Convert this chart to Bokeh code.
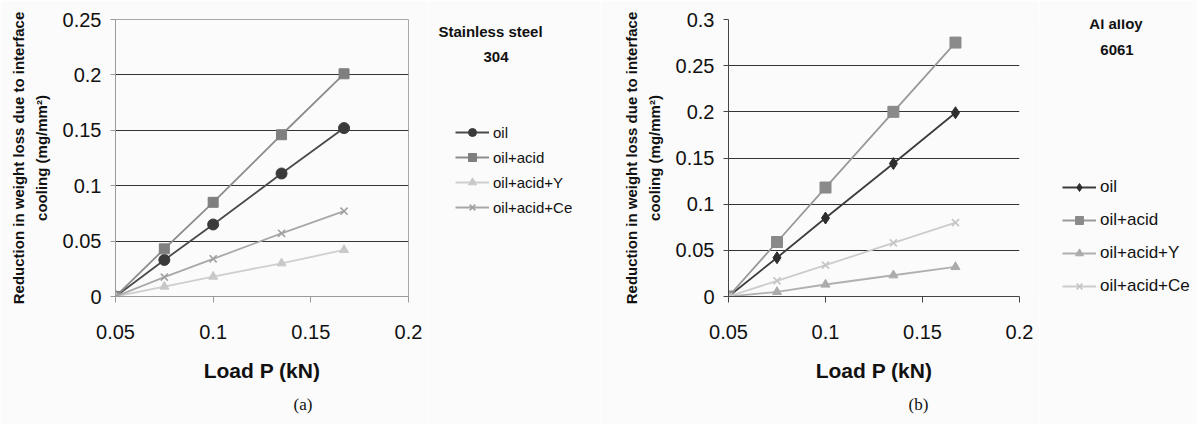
from bokeh.plotting import figure
from bokeh.layouts import row
from bokeh.models import FixedTicker, Legend, LegendItem, Label, Title
from bokeh.embed import file_html
from bokeh.resources import INLINE

# ---------------- data ----------------
load = [0.05, 0.075, 0.1, 0.135, 0.167]
series_names = ["oil", "oil+acid", "oil+acid+Y", "oil+acid+Ce"]

a_oil = [0.0, 0.033, 0.065, 0.111, 0.152]
a_acid = [0.0, 0.043, 0.085, 0.146, 0.201]
a_y = [0.0, 0.009, 0.018, 0.030, 0.042]
a_ce = [0.0, 0.0175, 0.034, 0.057, 0.077]

b_oil = [0.0, 0.042, 0.085, 0.144, 0.199]
b_acid = [0.0, 0.059, 0.118, 0.200, 0.275]
b_y = [0.0, 0.005, 0.013, 0.023, 0.032]
b_ce = [0.0, 0.017, 0.034, 0.058, 0.080]

x_ticks = [0.05, 0.1, 0.15, 0.2]
x_tick_labels = ["0.05", "0.1", "0.15", "0.2"]
a_y_ticks = [0.0, 0.05, 0.1, 0.15, 0.2, 0.25]
a_y_tick_labels = ["0", "0.05", "0.1", "0.15", "0.2", "0.25"]
b_y_ticks = [0.0, 0.05, 0.1, 0.15, 0.2, 0.25, 0.3]
b_y_tick_labels = ["0", "0.05", "0.1", "0.15", "0.2", "0.25", "0.3"]

a_title = ["Stainless steel", "304"]
b_title = ["Al alloy", "6061"]

FONT = "Liberation Sans"
BG = "#fbfbfb"
YLABEL = "Reduction in weight loss due to interface\ncooling (mg/mm\u00b2)"
H = 424
TOP = 19
FH = 277
BOTTOM = H - TOP - FH          # 128
FRAME_BOTTOM = TOP + FH        # 296 (canvas y of the frame's bottom edge)


def add_series(p, series, markers, line_colors, marker_colors, sizes, visible=True):
    rends = []
    for vals, mk, lc, mc, sz in zip(series, markers, line_colors, marker_colors, sizes):
        lr = p.line(load, vals, line_color=lc, line_width=1.8, visible=visible)
        if mk == "x":
            sr = p.scatter(load, vals, marker="x", size=sz, line_color=mc,
                           line_width=1.6, visible=visible)
        else:
            sr = p.scatter(load, vals, marker=mk, size=sz, fill_color=mc,
                           line_color=mc, visible=visible)
        rends.append([lr, sr])
    return rends


def make_panel(series, markers, line_colors, marker_colors, sizes, y_ticks, y_labels,
               y_max, grid_ticks, axis_color, outline, tag, tag_offset,
               border_left, frame_w):
    p = figure(frame_width=frame_w, frame_height=FH,
               x_range=(0.05, 0.2), y_range=(0, y_max),
               output_backend="svg", toolbar_location=None,
               background_fill_color=BG, border_fill_color=BG,
               min_border_left=border_left, min_border_right=20,
               min_border_top=TOP, min_border_bottom=BOTTOM)
    p.outline_line_color = outline
    p.xgrid.grid_line_color = None
    p.ygrid.ticker = FixedTicker(ticks=grid_ticks)
    p.ygrid.grid_line_color = "#333333"
    p.ygrid.grid_line_width = 1

    xa = p.xaxis[0]
    xa.ticker = FixedTicker(ticks=x_ticks)
    xa.major_label_overrides = {t: l for t, l in zip(x_ticks, x_tick_labels)}
    xa.axis_line_color = axis_color
    xa.major_tick_line_color = axis_color
    xa.major_tick_out = 6
    xa.major_tick_in = 0
    xa.minor_tick_line_color = None
    xa.major_label_standoff = 22
    xa.major_label_text_font = FONT
    xa.major_label_text_font_size = "20px"
    xa.major_label_text_color = "#111111"
    xa.axis_label = "Load P (kN)"
    xa.axis_label_text_font = FONT
    xa.axis_label_text_font_style = "bold"
    xa.axis_label_text_font_size = "21px"
    xa.axis_label_text_color = "#111111"
    xa.axis_label_standoff = 17

    ya = p.yaxis[0]
    ya.ticker = FixedTicker(ticks=y_ticks)
    ya.major_label_overrides = {t: l for t, l in zip(y_ticks, y_labels)}
    ya.axis_line_color = axis_color
    ya.major_tick_line_color = axis_color
    ya.major_tick_out = 5
    ya.major_tick_in = 0
    ya.minor_tick_line_color = None
    ya.major_label_standoff = 9
    ya.major_label_text_font = FONT
    ya.major_label_text_font_size = "20px"
    ya.major_label_text_color = "#111111"
    ya.axis_label = YLABEL
    ya.axis_label_text_font = FONT
    ya.axis_label_text_font_style = "bold"
    ya.axis_label_text_font_size = "15px"
    ya.axis_label_text_line_height = 1.3
    ya.axis_label_text_color = "#111111"
    ya.axis_label_standoff = 10

    add_series(p, series, markers, line_colors, marker_colors, sizes)

    p.add_layout(Title(text=tag, align="left", offset=tag_offset, standoff=16,
                       text_font="Liberation Serif", text_font_size="17px",
                       text_font_style="normal", text_color="#111111"), "below")
    return p


def make_side(width, series, markers, line_colors, marker_colors, sizes, titles,
              title_pos, legend_left, legend_bottom, legend_font, legend_spacing):
    # frame of this figure spans canvas y TOP..FRAME_BOTTOM (aligned with the row)
    s = figure(width=width, height=H, x_range=(0, 1), y_range=(0, 1),
               output_backend="svg", toolbar_location=None,
               background_fill_color=BG, border_fill_color=BG,
               min_border_left=0, min_border_right=0,
               min_border_top=TOP, min_border_bottom=BOTTOM)
    s.axis.visible = False
    s.grid.grid_line_color = None
    s.outline_line_color = None
    rends = add_series(s, series, markers, line_colors, marker_colors, sizes,
                       visible=False)
    items = [LegendItem(label=n, renderers=r) for n, r in zip(series_names, rends)]
    leg = Legend(items=items, location=(legend_left, FRAME_BOTTOM - legend_bottom),
                 orientation="vertical",
                 background_fill_alpha=0, border_line_color=None,
                 inactive_fill_alpha=0,
                 padding=0, margin=0, spacing=legend_spacing,
                 glyph_width=34, glyph_height=20, label_height=20,
                 label_standoff=4,
                 label_text_font=FONT, label_text_font_size=legend_font,
                 label_text_color="#111111")
    s.add_layout(leg)
    for txt, (tx, ty) in zip(titles, title_pos):
        s.add_layout(Label(x=tx, y=FRAME_BOTTOM - ty, x_units="screen", y_units="screen",
                           text=txt, text_font=FONT, text_font_style="bold",
                           text_font_size="15px", text_align="center",
                           text_baseline="middle", text_color="#111111"))
    return s


a_markers = ["circle", "square", "triangle", "x"]
a_lines = ["#4a4a4a", "#8c8c8c", "#cfcfcf", "#a8a8a8"]
a_mcols = ["#3a3a3a", "#7f7f7f", "#c8c8c8", "#a0a0a0"]
a_sizes = [11, 10, 9, 10]

b_markers = ["diamond", "square", "triangle", "x"]
b_lines = ["#3c3c3c", "#999999", "#b0b0b0", "#cccccc"]
b_mcols = ["#2e2e2e", "#8a8a8a", "#ababab", "#c4c4c4"]
b_sizes = [12, 11, 9, 10]

a_series = [a_oil, a_acid, a_y, a_ce]
b_series = [b_oil, b_acid, b_y, b_ce]

pa = make_panel(a_series, a_markers, a_lines, a_mcols, a_sizes,
                a_y_ticks, a_y_tick_labels, 0.25,
                [0.05, 0.1, 0.15, 0.2], "#9a9a9a", "#a8a8a8",
                "(a)", 178, 115, 293)
sa = make_side(172, a_series, a_markers, a_lines, a_mcols, a_sizes, a_title,
               [(62, 31), (67.5, 56)], 27, 217, "15px", 5)

pb = make_panel(b_series, b_markers, b_lines, b_mcols, b_sizes,
                b_y_ticks, b_y_tick_labels, 0.3,
                [0.05, 0.1, 0.15, 0.2, 0.25, 0.3], "#444444", None,
                "(b)", 180, 128, 291)
sb = make_side(158, b_series, b_markers, b_lines, b_mcols, b_sizes, b_title,
               [(76.5, 23), (77.5, 49)], 23, 296, "17px", 13)

layout = row(pa, sa, pb, sb)
open("out.html", "w").write(file_html(layout, INLINE))
